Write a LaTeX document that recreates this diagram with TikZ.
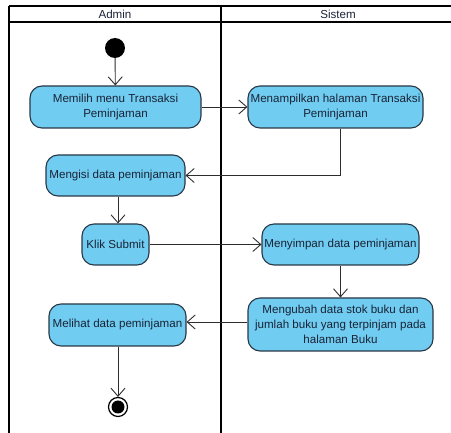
\documentclass[tikz,border=0pt]{standalone}
\usepackage{fontspec}
\setmainfont{Liberation Sans}
\usetikzlibrary{arrows.meta,positioning}
\definecolor{actfill}{RGB}{112,204,240}
\definecolor{actdraw}{RGB}{40,55,70}
\definecolor{txt}{RGB}{25,35,55}
\definecolor{conn}{RGB}{45,45,45}
\begin{document}
\begin{tikzpicture}[x=1pt,y=-1pt,
  font=\fontsize{11.6}{15}\selectfont,
  act/.style={draw=actdraw,line width=1.1pt,fill=actfill,rounded corners=12pt,
    text=txt,align=center,inner sep=0pt,minimum height=42pt},
  flow/.style={draw=conn,line width=0.9pt,-{Straight Barb[length=8pt,width=14pt,line width=0.9pt]}},
  lane/.style={draw=black,line width=2pt}]
\useasboundingbox (0,0) rectangle (451,433);
% swimlane frame
\coordinate (tl) at (9,6);
\coordinate (tr) at (451,6);
\coordinate (hl) at (9,22);
\coordinate (hr) at (451,22);
\coordinate (bl) at (9,433);
\coordinate (mt) at (221,6);
\coordinate (mb) at (221,433);
\draw[lane] (tl) -- (tr);
\draw[lane] (hl) -- (hr);
\draw[lane] (tl) -- (bl);
\draw[lane] (mt) -- (mb);
\node[text=txt] (hadmin) at (115,14.5) {Admin};
\node[text=txt] (hsistem) at (338,14.5) {Sistem};
% nodes
\node[circle,fill=black,minimum size=20pt,inner sep=0pt] (start) at (115,48) {};
\node[act,minimum width=171pt] (memilih) at (115.5,107) {Memilih menu Transaksi\\Peminjaman};
\node[act,minimum width=175pt] (menampilkan) at (335.5,107) {Menampilkan halaman Transaksi\\Peminjaman};
\node[act,minimum width=139pt,minimum height=41pt] (mengisi) at (115.5,175.5) {Mengisi data peminjaman};
\node[act,minimum width=67pt,minimum height=41pt] (klik) at (115.5,244.5) {Klik Submit};
\node[act,minimum width=157pt,minimum height=41pt] (menyimpan) at (340.5,244.5) {Menyimpan data peminjaman};
\node[act,minimum width=185pt,minimum height=53pt] (mengubah) at (340.5,324.5) {Mengubah data stok buku dan\\jumlah buku yang terpinjam pada\\halaman Buku};
\node[act,minimum width=137pt] (melihat) at (117.5,325) {Melihat data peminjaman};
\node[circle,draw=black,line width=1.2pt,fill=white,minimum size=19pt,inner sep=0pt] (final) at (118,407) {};
\node[circle,fill=black,minimum size=13pt,inner sep=0pt] (finalin) at (final) {};
% connectors
\draw[flow] (start) -- (memilih);
\draw[flow] (memilih) -- (menampilkan);
\draw[flow] (menampilkan.south -| 340.7,0) |- (mengisi.east);
\draw[flow] (mengisi.south -| 118,0) -- (klik.north -| 118,0);
\draw[flow] (klik) -- (menyimpan);
\draw[flow] (menyimpan) -- (mengubah);
\draw[flow] (mengubah.west |- 0,322) -- (melihat.east |- 0,322);
\draw[flow] (melihat.south -| 118,0) -- (final);
\end{tikzpicture}
\end{document}
